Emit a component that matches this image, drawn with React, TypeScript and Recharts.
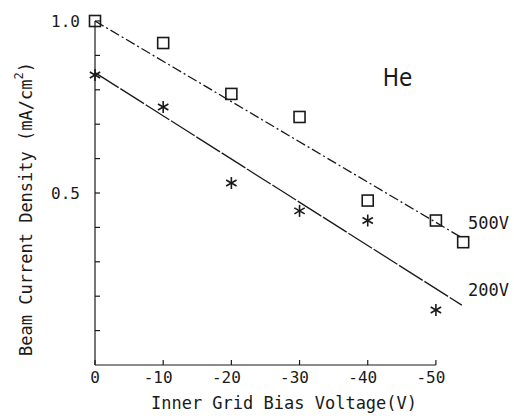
import React from 'react';
import {
  ComposedChart,
  Scatter,
  Line,
  XAxis,
  YAxis,
  ReferenceLine,
  ReferenceDot,
} from 'recharts';

const bias500 = [0, -10, -20, -30, -40, -50, -54];
const density500 = [1.0, 0.936, 0.788, 0.721, 0.478, 0.42, 0.357];
const bias200 = [0, -10, -20, -30, -40, -50];
const density200 = [0.843, 0.75, 0.529, 0.448, 0.42, 0.16];

// fitted lines (end points)
const fitBias = [0, -53.8];
const fit500 = [1.0, 0.37];
const fit200 = [0.85, 0.174];

const xTicks = [0, -10, -20, -30, -40, -50];
const yTicks = [0.1, 0.2, 0.3, 0.4, 0.5, 0.6, 0.7, 0.8, 0.9, 1.0];
const yLabelled = [0.5, 1.0];

const zip = (xs: number[], ys: number[]) => xs.map((x, i) => ({ x, y: ys[i] }));

const points500 = zip(bias500, density500);
const points200 = zip(bias200, density200);
const line500 = zip(fitBias, fit500);
const line200 = zip(fitBias, fit200);

const INK = '#1a1a1a';
const MONO = '"DejaVu Sans Mono", monospace';

const Square = ({ cx, cy }: any) => (
  <rect x={cx - 5.5} y={cy - 5.5} width={11} height={11} fill="none" stroke={INK} strokeWidth={1.6} />
);

const Star = ({ cx, cy }: any) => {
  const r = 6;
  const dx = r * Math.cos(Math.PI / 6);
  const dy = r * Math.sin(Math.PI / 6);
  return (
    <g stroke={INK} strokeWidth={1.6}>
      <line x1={cx} y1={cy - r} x2={cx} y2={cy + r} />
      <line x1={cx - dx} y1={cy - dy} x2={cx + dx} y2={cy + dy} />
      <line x1={cx - dx} y1={cy + dy} x2={cx + dx} y2={cy - dy} />
    </g>
  );
};

const XTick = ({ x, y, payload }: any) => {
  const v = payload.value as number;
  return (
    <text x={v < 0 ? x - 5 : x} y={y} dy={11} textAnchor="middle" fontFamily={MONO} fontSize={16} fill={INK}>
      {v === 0 ? '0' : String(v)}
    </text>
  );
};

const YTitle = () => (
  <text
    x={26}
    y={209}
    transform="rotate(-90 26 209)"
    textAnchor="middle"
    dominantBaseline="central"
    fontFamily={MONO}
    fontSize={17}
    fill={INK}
  >
    Beam Current Density (mA/cm
    <tspan dy={-7} fontSize={12}>2</tspan>
    <tspan dy={7}>)</tspan>
  </text>
);

const XTitle = () => (
  <text x={284} y={409} textAnchor="middle" fontFamily={MONO} fontSize={17} fill={INK}>
    Inner Grid Bias Voltage(V)
  </text>
);

export default function App() {
  return (
    <div style={{ position: 'absolute', left: 0, top: 0, background: '#fff' }}>
      <ComposedChart width={514} height={418} margin={{ top: 21, right: 44, bottom: 8, left: 0 }}>
        <XAxis
          type="number"
          dataKey="x"
          domain={[-55, 0]}
          reversed
          ticks={xTicks}
          axisLine={false}
          tickSize={-5}
          tickMargin={12}
          tickLine={{ stroke: INK, strokeWidth: 1.2 }}
          tick={<XTick />}
          height={45}
          label={{ content: () => <XTitle /> }}
        />
        <YAxis
          type="number"
          domain={[0, 1]}
          ticks={yTicks}
          width={95}
          axisLine={{ stroke: INK, strokeWidth: 1.2 }}
          tickSize={-5}
          tickMargin={20}
          tickLine={{ stroke: INK, strokeWidth: 1.2 }}
          tick={{ fontFamily: MONO, fontSize: 16, fill: INK }}
          tickFormatter={(v: number) => (yLabelled.includes(v) ? v.toFixed(1) : '')}
          label={{ content: () => <YTitle /> }}
        />
        <ReferenceLine
          segment={[{ x: 0, y: 0 }, { x: -50, y: 0 }]}
          stroke={INK}
          strokeWidth={1.2}
        />
        <Line
          data={line500}
          dataKey="y"
          type="linear"
          stroke={INK}
          strokeWidth={1.3}
          strokeDasharray="10 3 2 3"
          dot={false}
          activeDot={false}
          isAnimationActive={false}
        />
        <Line
          data={line200}
          dataKey="y"
          type="linear"
          stroke={INK}
          strokeWidth={1.3}
          strokeDasharray="28 2"
          dot={false}
          activeDot={false}
          isAnimationActive={false}
        />
        <Scatter data={points500} dataKey="y" shape={<Square />} isAnimationActive={false} />
        <Scatter data={points200} dataKey="y" shape={<Star />} isAnimationActive={false} />
        <ReferenceDot
          x={-42.2}
          y={0.837}
          r={0}
          fill="none"
          stroke="none"
          label={{
            value: 'He',
            position: 'right',
            offset: 0,
            fontFamily: '"Liberation Sans Narrow", "DejaVu Sans Condensed", sans-serif',
            fontSize: 24,
            fill: INK,
          }}
        />
        <ReferenceDot
          x={-54.7}
          y={0.413}
          r={0}
          fill="none"
          stroke="none"
          label={{ value: '500V', position: 'right', offset: 0, fontFamily: MONO, fontSize: 17, fill: INK }}
        />
        <ReferenceDot
          x={-54.7}
          y={0.218}
          r={0}
          fill="none"
          stroke="none"
          label={{ value: '200V', position: 'right', offset: 0, fontFamily: MONO, fontSize: 17, fill: INK }}
        />
      </ComposedChart>
    </div>
  );
}
